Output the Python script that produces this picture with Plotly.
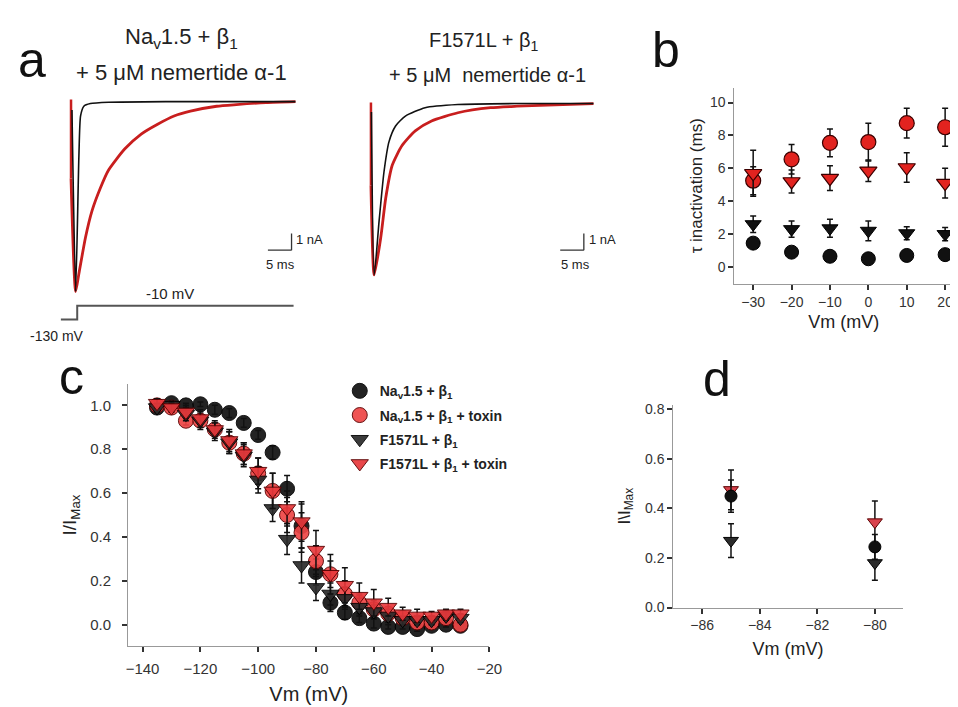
import plotly.graph_objects as go

W, H = 958, 707
def X(px): return px / W
def Y(py): return 1 - py / H

FONT = "Arial, Liberation Sans, sans-serif"

# ---------------- Panel a: current traces (time in ms, current in nA) ----------------
a_left_black_t = [0.2, 0.98, 1.67, 2.02, 2.71, 4.1, 7.92, 20.0, 47.5]
a_left_black_i = [-0.5, -11.35, -3.22, -0.86, -0.28, -0.12, -0.04, 0.0, 0.0]
a_left_red_t = [0.0, 0.98, 1.67, 3.06, 4.44, 6.19, 7.92, 11.4, 14.85, 18.33, 21.81, 25.27, 30.83, 35.0, 41.25, 47.5]
a_left_red_i = [-4.6, -11.35, -10.28, -8.12, -6.53, -5.18, -4.1, -2.82, -1.94, -1.35, -0.86, -0.57, -0.28, -0.18, -0.06, 0.0]
a_left_artifact_t = [0.0, 0.0]
a_left_artifact_i = [0.12, -4.6]

a_right_black_t = [0.1, 0.69, 1.73, 2.77, 3.81, 5.21, 7.29, 11.46, 18.4, 30.9, 47.1]
a_right_black_i = [-0.5, -10.24, -7.0, -4.06, -2.29, -1.34, -0.75, -0.25, -0.06, 0.0, 0.0]
a_right_red_t = [0.0, 0.69, 2.08, 3.13, 4.5, 6.58, 9.38, 12.83, 18.4, 25.33, 30.9, 47.1]
a_right_red_i = [-4.9, -10.24, -8.0, -5.65, -3.69, -2.51, -1.63, -1.04, -0.55, -0.25, -0.16, 0.0]
a_right_artifact_t = [0.0, 0.0]
a_right_artifact_i = [0.06, -4.9]

# voltage protocol (ms, mV)
step_t = [-2.15, 1.31, 1.31, 47.1]
step_v = [-130, -130, -10, -10]

# ---------------- Panel b: tau inactivation ----------------
b_vm = [-30, -20, -10, 0, 10, 20]
b_nav = [1.45, 0.9, 0.65, 0.5, 0.7, 0.75]
b_nav_err = [0.15, 0.1, 0.1, 0.1, 0.1, 0.1]
b_f = [2.6, 2.3, 2.35, 2.2, 2.05, 2.0]
b_f_err = [0.5, 0.5, 0.55, 0.6, 0.4, 0.4]
b_nav_tox = [5.25, 6.55, 7.55, 7.6, 8.75, 8.5]
b_nav_tox_err = [0.85, 0.9, 0.85, 1.15, 0.9, 1.15]
b_f_tox = [5.7, 5.2, 5.4, 5.85, 6.05, 5.1]
b_f_tox_err = [1.4, 0.7, 0.75, 0.65, 0.9, 0.9]

# ---------------- Panel c: steady-state inactivation ----------------
c_vm = [-135, -130, -125, -120, -115, -110, -105, -100, -95, -90, -85, -80,
        -75, -70, -65, -60, -55, -50, -45, -40, -35, -30]
c_nav = [0.99, 1.01, 1.0, 1.005, 0.98, 0.965, 0.92, 0.865, 0.785, 0.62, 0.45, 0.24,
         0.1, 0.055, 0.03, 0.005, -0.01, -0.01, -0.02, -0.005, 0.0, -0.005]
c_nav_err = [0.01, 0.01, 0.01, 0.01, 0.02, 0.02, 0.02, 0.02, 0.03, 0.06, 0.1, 0.06,
             0.04, 0.03, 0.02, 0.02, 0.01, 0.01, 0.01, 0.01, 0.01, 0.01]
c_nav_tox = [1.0, 0.99, 0.93, 0.93, 0.89, 0.83, 0.78, 0.69, 0.61, 0.5, 0.42, 0.29,
             0.23, 0.14, 0.1, 0.07, 0.05, 0.03, 0.01, 0.01, 0.03, 0.0]
c_nav_tox_err = [0.02, 0.02, 0.02, 0.03, 0.03, 0.05, 0.05, 0.07, 0.08, 0.08, 0.09, 0.07,
                 0.06, 0.06, 0.04, 0.04, 0.03, 0.02, 0.02, 0.02, 0.02, 0.02]
c_f = [0.99, 1.0, 0.96, 0.93, 0.88, 0.83, 0.77, 0.66, 0.53, 0.39, 0.27, 0.17,
       0.14, 0.12, 0.08, 0.06, 0.04, 0.02, 0.02, 0.02, 0.04, 0.03]
c_f_err = [0.02, 0.02, 0.03, 0.04, 0.04, 0.05, 0.05, 0.06, 0.06, 0.07, 0.08, 0.06,
           0.05, 0.05, 0.04, 0.03, 0.03, 0.02, 0.02, 0.02, 0.02, 0.02]
c_f_tox = [1.01, 0.99, 0.97, 0.94, 0.89, 0.84, 0.78, 0.7, 0.61, 0.53, 0.47, 0.34,
           0.23, 0.18, 0.13, 0.1, 0.08, 0.05, 0.04, 0.04, 0.05, 0.05]
c_f_tox_err = [0.02, 0.02, 0.03, 0.04, 0.04, 0.05, 0.05, 0.06, 0.08, 0.08, 0.09, 0.09,
               0.09, 0.08, 0.06, 0.06, 0.04, 0.03, 0.03, 0.02, 0.02, 0.02]

# ---------------- Panel d ----------------
d_vm = [-85, -80]
d_nav = [0.45, 0.245]
d_nav_err = [0.065, 0.05]
d_f = [0.27, 0.18]
d_f_err = [0.068, 0.07]
d_f_tox = [0.475, 0.345]
d_f_tox_err = [0.08, 0.085]

legend_names = ["<b>Na<sub>v</sub>1.5 + β<sub>1</sub></b>",
                "<b>Na<sub>v</sub>1.5 + β<sub>1</sub> + toxin</b>",
                "<b>F1571L + β<sub>1</sub></b>",
                "<b>F1571L + β<sub>1</sub> + toxin</b>"]

BLACK = "#111111"
TRACE_RED = "#c81e1e"
RED_B = "#e2231f"
RED_C = "#ee4646"
RED_CT = "#e8393c"
DARK_TRI = "#2b2b2b"

fig = go.Figure()

# Panel a traces
for t, i, col, w, xa, ya, shape in [
    (a_left_artifact_t, a_left_artifact_i, TRACE_RED, 2.5, "x", "y", "linear"),
    (a_left_red_t, a_left_red_i, TRACE_RED, 2.8, "x", "y", "spline"),
    (a_left_black_t, a_left_black_i, BLACK, 1.6, "x", "y", "spline"),
    (a_right_artifact_t, a_right_artifact_i, TRACE_RED, 2.5, "x2", "y2", "linear"),
    (a_right_red_t, a_right_red_i, TRACE_RED, 2.8, "x2", "y2", "spline"),
    (a_right_black_t, a_right_black_i, BLACK, 1.6, "x2", "y2", "spline"),
]:
    fig.add_trace(go.Scatter(x=t, y=i, mode="lines", xaxis=xa, yaxis=ya,
                             line=dict(color=col, width=w, shape=shape, smoothing=0.6),
                             showlegend=False, hoverinfo="skip"))

fig.add_trace(go.Scatter(x=step_t, y=step_v, mode="lines", xaxis="x3", yaxis="y3",
                         line=dict(color="#555555", width=2), showlegend=False, hoverinfo="skip"))

def err(arr):
    return dict(type="data", array=arr, visible=True, color="#111111", thickness=1.5, width=3)

# Panel b
fig.add_trace(go.Scatter(x=b_vm, y=b_nav, mode="markers", xaxis="x4", yaxis="y4", error_y=err(b_nav_err),
                         marker=dict(symbol="circle", size=14, color=BLACK, line=dict(color="#000", width=1)),
                         showlegend=False))
fig.add_trace(go.Scatter(x=b_vm, y=b_f, mode="markers", xaxis="x4", yaxis="y4", error_y=err(b_f_err),
                         marker=dict(symbol="triangle-down", size=14, color=BLACK, line=dict(color="#000", width=1)),
                         showlegend=False))
fig.add_trace(go.Scatter(x=b_vm, y=b_nav_tox, mode="markers", xaxis="x4", yaxis="y4", error_y=err(b_nav_tox_err),
                         marker=dict(symbol="circle", size=15, color=RED_B, line=dict(color="#3a0000", width=1.2)),
                         showlegend=False))
fig.add_trace(go.Scatter(x=b_vm, y=b_f_tox, mode="markers", xaxis="x4", yaxis="y4", error_y=err(b_f_tox_err),
                         marker=dict(symbol="triangle-down", size=15, color=RED_B, line=dict(color="#3a0000", width=1.2)),
                         showlegend=False))

# Panel c
c_series = [
    (c_nav, c_nav_err, "circle", BLACK, "#000000"),
    (c_nav_tox, c_nav_tox_err, "circle", RED_C, "#5a0000"),
    (c_f, c_f_err, "triangle-down", DARK_TRI, "#000000"),
    (c_f_tox, c_f_tox_err, "triangle-down", RED_CT, "#5a0000"),
]
for k, (yv, ev, sym, col, lc) in enumerate(c_series):
    fig.add_trace(go.Scatter(x=c_vm, y=yv, mode="markers", xaxis="x5", yaxis="y5", error_y=err(ev),
                             marker=dict(symbol=sym, size=15, color=col, opacity=0.92, line=dict(color=lc, width=1)),
                             name=legend_names[k], legendgroup="g%d" % k, showlegend=True))

# Panel d
fig.add_trace(go.Scatter(x=d_vm, y=d_f, mode="markers", xaxis="x6", yaxis="y6", error_y=err(d_f_err),
                         marker=dict(symbol="triangle-down", size=13, color=DARK_TRI, line=dict(color="#000", width=1)),
                         showlegend=False))
fig.add_trace(go.Scatter(x=d_vm, y=d_f_tox, mode="markers", xaxis="x6", yaxis="y6", error_y=err(d_f_tox_err),
                         marker=dict(symbol="triangle-down", size=13, color="#d9434d", line=dict(color="#5a0000", width=1)),
                         showlegend=False))
fig.add_trace(go.Scatter(x=d_vm, y=d_nav, mode="markers", xaxis="x6", yaxis="y6", error_y=err(d_nav_err),
                         marker=dict(symbol="circle", size=12, color=BLACK, line=dict(color="#000", width=1)),
                         showlegend=False))

hidden = dict(visible=False, fixedrange=True)

def tf(size):
    return dict(family=FONT, size=size, color="#333333")

def vis_axis(**kw):
    base = dict(showline=True, linecolor="#999999", linewidth=1.2, showgrid=False, zeroline=False,
                ticks="outside", ticklen=5, tickwidth=1.5, tickcolor="#333333", tickfont=tf(14))
    base.update(kw)
    return base

fig.update_layout(
    width=W, height=H, margin=dict(l=0, r=0, t=0, b=0),
    paper_bgcolor="white", plot_bgcolor="rgba(0,0,0,0)",
    font=dict(family=FONT, color="#222222"),
    xaxis=dict(domain=[X(40), X(300)], range=[-4.583, 49.583], anchor="y", **hidden),
    yaxis=dict(domain=[Y(290), Y(80)], range=[-11.647, 0.706], anchor="x", **hidden),
    xaxis2=dict(domain=[X(345), X(605)], range=[-4.52, 49.65], anchor="y2", **hidden),
    yaxis2=dict(domain=[Y(290), Y(80)], range=[-11.53, 0.824], anchor="x2", **hidden),
    xaxis3=dict(domain=[X(40), X(300)], range=[-4.583, 49.583], anchor="y3", **hidden),
    yaxis3=dict(domain=[Y(317), Y(295)], range=[-161.7, 26.9], anchor="x3", **hidden),
    xaxis4=vis_axis(domain=[X(736), 1.0], range=[-34.87, 22.05], anchor="y4",
                    tickvals=[-30, -20, -10, 0, 10, 20],
                    title=dict(text="Vm (mV)", standoff=6, font=dict(family=FONT, size=18, color="#222"))),
    yaxis4=vis_axis(domain=[Y(277), Y(78)], range=[-1.018, 10.9], anchor="x4",
                    tickvals=[0, 2, 4, 6, 8, 10],
                    title=dict(text="τ inactivation (ms)", standoff=3, font=dict(family=FONT, size=17, color="#222"))),
    xaxis5=vis_axis(domain=[X(120), X(487)], range=[-145, -20], anchor="y5",
                    tickvals=[-140, -120, -100, -80, -60, -40, -20], tickfont=tf(15), ticklabelstandoff=4,
                    title=dict(text="Vm (mV)", standoff=10, font=dict(family=FONT, size=20, color="#222"))),
    yaxis5=vis_axis(domain=[Y(645), Y(379)], range=[-0.097, 1.097], anchor="x5",
                    tickvals=[0, 0.2, 0.4, 0.6, 0.8, 1.0], tickformat=".1f", tickfont=tf(15),
                    ticklabelstandoff=8,
                    title=dict(text="I/I<sub>Max</sub>", standoff=8, font=dict(family=FONT, size=19, color="#222"))),
    xaxis6=vis_axis(domain=[X(674), X(907)], range=[-87.0, -79.03], anchor="y6",
                    tickvals=[-86, -84, -82, -80],
                    title=dict(text="Vm (mV)", standoff=9, font=dict(family=FONT, size=18, color="#222"))),
    yaxis6=vis_axis(domain=[Y(606), Y(400)], range=[0, 0.8187], anchor="x6",
                    tickvals=[0, 0.2, 0.4, 0.6, 0.8], tickformat=".1f",
                    title=dict(text="I\\I<sub>Max</sub>", standoff=10, font=dict(family=FONT, size=17, color="#222"))),
    legend=dict(x=X(335), y=Y(370), xanchor="left", yanchor="top",
                font=dict(family=FONT, size=14, color="#222"), bgcolor="rgba(0,0,0,0)",
                tracegroupgap=3, itemwidth=30),
)

# scale bars (data coordinates: 5 ms, 1 nA)
for xa, ya, t0, i0 in [("x", "y", 41.67, -8.88), ("x2", "y2", 40.06, -8.76)]:
    fig.add_shape(type="line", xref=xa, yref=ya, x0=t0, x1=t0 + 5, y0=i0, y1=i0,
                  line=dict(color="#333333", width=1.3))
    fig.add_shape(type="line", xref=xa, yref=ya, x0=t0 + 5, x1=t0 + 5, y0=i0, y1=i0 + 1,
                  line=dict(color="#333333", width=1.3))

def ann(text, px, py, size, xanchor="center", color="#222222"):
    fig.add_annotation(text=text, x=X(px), y=Y(py), xref="paper", yref="paper", showarrow=False,
                       xanchor=xanchor, yanchor="middle", font=dict(family=FONT, size=size, color=color))

ann("1 nA", 289, 232, 13, xanchor="left")
ann("5 ms", 275, 257, 13)
ann("1 nA", 586, 232, 13, xanchor="left")
ann("5 ms", 575, 257, 13)
ann("-10 mV", 163, 287, 15)
ann("-130 mV", 48, 330, 14)

ann("Na<sub>v</sub>1.5 + β<sub>1</sub>", 174, 27, 22)
ann("+ 5 μM nemertide α-1", 174, 62, 22)
ann("F1571L + β<sub>1</sub>", 481, 31, 20)
ann("+ 5 μM  nemertide α-1", 485, 65, 20)

ann("a", 22, 50, 50, color="#111")
ann("b", 666, 40, 50, color="#111")
ann("c", 62, 372, 50, color="#111")
ann("d", 718, 374, 50, color="#111")

fig.write_html("out.html")
